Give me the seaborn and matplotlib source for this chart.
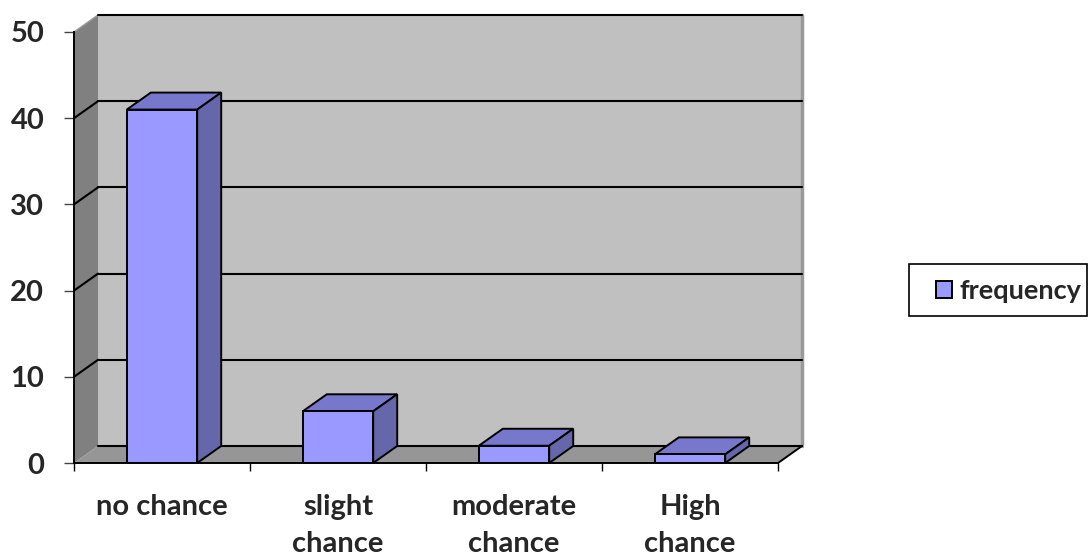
import matplotlib
matplotlib.use("Agg")
import matplotlib.pyplot as plt
import matplotlib.transforms as mtransforms
from matplotlib.patches import Polygon, Rectangle, Patch
from matplotlib.lines import Line2D
import seaborn as sns
import pandas as pd

# Survey answers and their frequencies
categories = ["no chance", "slight\nchance", "moderate\nchance", "High\nchance"]
frequency = [41, 6, 2, 1]
y_ticks = [0, 10, 20, 30, 40, 50]
series_name = "frequency"

FRONT = "#9999FF"
TOP = "#7777CC"
SIDE = "#6666AA"
WALL_BACK = "#C0C0C0"
WALL_LEFT = "#808080"
FLOOR = "#969696"

sns.set_style("white")
plt.rcParams["font.family"] = ["Lato", "DejaVu Sans"]
plt.rcParams["font.weight"] = "bold"

W, H = 1088, 555
fig = plt.figure(figsize=(W / 100, H / 100), dpi=100)
ax = fig.add_axes([74 / W, (H - 463) / H, (778 - 74) / W, (463 - 32) / H])

df = pd.DataFrame({"category": categories, series_name: frequency})
sns.barplot(data=df, x="category", y=series_name, color=FRONT, saturation=1,
            width=0.4, edgecolor="black", linewidth=1.4, ax=ax, zorder=6)

ax.set_xlim(-0.5, len(categories) - 0.5)
ax.set_ylim(y_ticks[0], y_ticks[-1])
ax.set_xlabel("")
ax.set_ylabel("")

# depth of the 3-D box, in pixels
DX, DY = 24, 17
ident = mtransforms.IdentityTransform()
fig.canvas.draw()


def disp(x, y, back=False):
    px, py = ax.transData.transform((x, y))
    if back:
        px, py = px + DX, py + DY
    return (px, py)


x0, x1 = ax.get_xlim()
y0, y1 = ax.get_ylim()

# back wall
ax.add_patch(Polygon([disp(x0, y0, True), disp(x1, y0, True), disp(x1, y1, True),
                      disp(x0, y1, True)], closed=True, facecolor=WALL_BACK,
                     edgecolor="none", transform=ident, clip_on=False, zorder=0))
# thin shade on the wall's right edge
r0, r1 = disp(x1, y0, True), disp(x1, y1, True)
ax.add_line(Line2D([r0[0], r1[0]], [r0[1], r1[1]], color="#999999", lw=2.5,
                   transform=ident, clip_on=False, zorder=0.5))
# left side wall
ax.add_patch(Polygon([disp(x0, y0), disp(x0, y0, True), disp(x0, y1, True),
                      disp(x0, y1)], closed=True, facecolor=WALL_LEFT,
                     edgecolor="none", transform=ident, clip_on=False, zorder=1))
t0, t1 = disp(x0, y1), disp(x0, y1, True)
ax.add_line(Line2D([t0[0], t1[0]], [t0[1], t1[1]], color="#9a9a9a", lw=1,
                   transform=ident, clip_on=False, zorder=1.2))
# floor
ax.add_patch(Polygon([disp(x0, y0), disp(x1, y0), disp(x1, y0, True),
                      disp(x0, y0, True)], closed=True, facecolor=FLOOR,
                     edgecolor="none", transform=ident, clip_on=False, zorder=2))
f0, f1 = disp(x1, y0), disp(x1, y0, True)
ax.add_line(Line2D([f0[0], f1[0]], [f0[1], f1[1]], color="black", lw=1.4,
                   transform=ident, clip_on=False, zorder=3))

# gridlines on the back wall and the left wall
for v in y_ticks:
    a, b = disp(x0, v, True), disp(x1, v, True)
    ax.add_line(Line2D([a[0], b[0]], [a[1], b[1]], color="black", lw=1.5,
                       transform=ident, clip_on=False, zorder=2.2))
    if y_ticks[0] < v < y_ticks[-1]:
        c = disp(x0, v)
        ax.add_line(Line2D([c[0], a[0]], [c[1], a[1]], color="black", lw=1.5,
                           transform=ident, clip_on=False, zorder=2.2))

# top and side faces of each column
for bar in ax.patches[:]:
    if not isinstance(bar, Rectangle):
        continue
    bx, bw, bh = bar.get_x(), bar.get_width(), bar.get_height()
    if bw <= 0 or bw > 1:
        continue
    top = [disp(bx, bh), disp(bx + bw, bh), disp(bx + bw, bh, True), disp(bx, bh, True)]
    side = [disp(bx + bw, 0), disp(bx + bw, bh), disp(bx + bw, bh, True),
            disp(bx + bw, 0, True)]
    ax.add_patch(Polygon(top, closed=True, facecolor=TOP, edgecolor="black",
                         lw=1.4, transform=ident, clip_on=False, zorder=5))
    ax.add_patch(Polygon(side, closed=True, facecolor=SIDE, edgecolor="black",
                         lw=1.4, transform=ident, clip_on=False, zorder=5))

# axes lines and ticks
for s in ["top", "right"]:
    ax.spines[s].set_visible(False)
for s in ["left", "bottom"]:
    ax.spines[s].set_color("black")
    ax.spines[s].set_linewidth(1.4)
    ax.spines[s].set_zorder(7)

FS = 21
ax.set_yticks(y_ticks)
ax.set_yticklabels([str(v) for v in y_ticks], fontsize=FS, fontweight="bold")
ax.tick_params(axis="y", which="major", direction="out", length=7.5, width=1,
               color="#444444", pad=14, left=True)
ax.set_xticks(range(len(categories)))
ax.set_xticklabels(categories, fontsize=FS, fontweight="bold", linespacing=1.55)
ax.set_xticks([i - 0.5 for i in range(len(categories) + 1)], minor=True)
ax.tick_params(axis="x", which="major", length=0, pad=22)
ax.tick_params(axis="x", which="minor", direction="out", length=5.5, width=1,
               color="black", bottom=True)

# legend
LFS = 19.5
lx0, ly0, lx1, ly1 = 909, 264, 1087, 316
fig.add_artist(Rectangle((lx0, H - ly1), lx1 - lx0, ly1 - ly0, transform=ident,
                         facecolor="white", edgecolor="black", lw=1.2))
handle = Patch(facecolor=FRONT, edgecolor="black", linewidth=1.4)
fig.legend([handle], [series_name], loc="center left",
           bbox_to_anchor=(936 / W, 1 - 291 / H), frameon=False,
           borderpad=0, borderaxespad=0, handlelength=0.6, handleheight=0.6,
           handletextpad=0.25, prop={"size": LFS, "weight": "bold"})

fig.savefig("out.png", dpi=100)
